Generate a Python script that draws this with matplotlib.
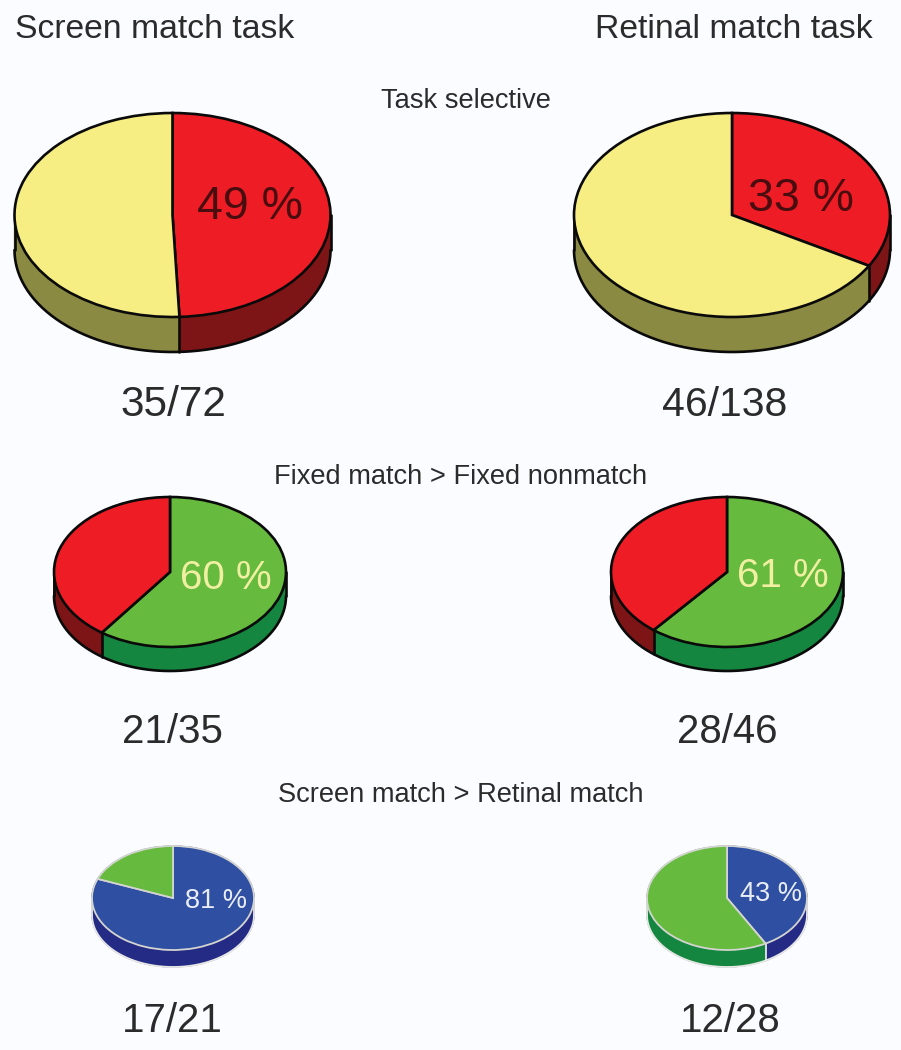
import numpy as np
import matplotlib
matplotlib.use('Agg')
import matplotlib.pyplot as plt

plt.rcParams['font.family'] = ['Liberation Sans', 'DejaVu Sans']

W, H = 901, 1050
BG = '#fbfcff'
TXT = '#2b2b2b'

# datos
slice_pct = [49.3, 33.3, 60.0, 60.9, 81.0, 42.0]
pct_labels = ['49 %', '33 %', '60 %', '61 %', '81 %', '43 %']
count_labels = ['35/72', '46/138', '21/35', '28/46', '17/21', '12/28']
headers = ['Screen match task', 'Retinal match task']
sections = ['Task selective', 'Fixed match > Fixed nonmatch', 'Screen match > Retinal match']

# colores
yellow, olive = '#f6ee82', '#8b8a42'
red, dark_red = '#ee1c25', '#7d1517'
green, dark_green = '#66ba3d', '#15863f'
blue, dark_blue = '#2f4fa3', '#242b85'
top_colors = [(red, yellow), (red, yellow), (green, red), (green, red), (blue, green), (blue, green)]
side_colors = [(dark_red, olive), (dark_red, olive), (dark_green, dark_red),
               (dark_green, dark_red), (dark_blue, dark_green), (dark_blue, dark_green)]
edge_colors = ['#0a0a0a'] * 4 + ['#d4d4d0'] * 2
low_edge_colors = ['#0a0a0a'] * 4 + ['#e8e8e6'] * 2
edge_widths = [1.9, 1.9, 1.9, 1.9, 1.3, 1.3]

# geometria en pixeles: centro x, centro y, radio x, radio y, grosor
cx = [172.5, 732, 170, 727, 173, 727]
cy = [215, 215, 572, 572, 898, 898]
rx = [158, 158, 116, 116, 81, 80]
ry = [102, 102, 75, 75, 52, 52]
depth = [35, 35, 24, 24, 17, 17]

pct_x = [250, 801, 226, 783, 216, 771]
pct_y = [207, 199, 578, 576, 901, 894]
pct_size = [33.5, 33.5, 29, 29, 19.5, 19.5]
pct_colors = ['#4a0d0f', '#4a0d0f', '#f0efa2', '#f0efa2', '#e9edf6', '#e9edf6']

count_x = [173, 725, 172, 727, 172, 730]
count_y = [405, 405, 732, 732, 1021, 1021]
count_size = [30.5, 29.5, 29, 29, 29, 29]


def fig_text(x, y, s, **kw):
    fig.text(x / W, 1 - y / H, s, ha='center', va='center', **kw)


fig = plt.figure(figsize=(W / 100, H / 100), dpi=100, facecolor=BG)

for i in range(6):
    values = [slice_pct[i], 100 - slice_pct[i]]
    d = depth[i] / ry[i]
    pad = 0.06

    # un eje por tarta, estirado para que el circulo salga eliptico
    y0 = cy[i] + ry[i] * (1 + d + pad)
    ax = fig.add_axes([(cx[i] - rx[i] * (1 + pad)) / W, 1 - y0 / H,
                       2 * rx[i] * (1 + pad) / W, ry[i] * (2 + d + 2 * pad) / H])

    # pared lateral: capas de abajo a arriba
    for off in np.linspace(d, 0, depth[i] + 1):
        side, _ = ax.pie(values, colors=side_colors[i], startangle=90, counterclock=False,
                         center=(0, -off), wedgeprops=dict(linewidth=0.8))
        for w in side:
            w.set_edgecolor(w.get_facecolor())

    # contorno inferior y aristas verticales
    t = np.linspace(np.pi, 2 * np.pi, 200)
    line = dict(color=low_edge_colors[i], lw=edge_widths[i], zorder=3, solid_capstyle='round')
    ax.plot(np.cos(t), np.sin(t) - d, **line)
    ax.plot([-1, -1], [0, -d], **line)
    ax.plot([1, 1], [0, -d], **line)
    a = 2 * np.pi * values[0] / 100
    if np.cos(a) < 0:
        ax.plot([np.sin(a)] * 2, [np.cos(a), np.cos(a) - d], **line)

    # cara superior
    wedges, _ = ax.pie(values, colors=top_colors[i], startangle=90, counterclock=False,
                       wedgeprops=dict(linewidth=edge_widths[i], edgecolor=edge_colors[i]))
    for w in wedges:
        w.set_zorder(5)

    ax.set_aspect('auto')
    ax.set_xlim(-1 - pad, 1 + pad)
    ax.set_ylim(-1 - d - pad, 1 + pad)
    ax.axis('off')

    fig_text(pct_x[i], pct_y[i], pct_labels[i], fontsize=pct_size[i], color=pct_colors[i], zorder=10)
    fig_text(count_x[i], count_y[i], count_labels[i], fontsize=count_size[i], color=TXT)

fig_text(154.5, 30, headers[0], fontsize=24.3, color=TXT)
fig_text(733.5, 30, headers[1], fontsize=24.3, color=TXT)
fig_text(466, 101.5, sections[0], fontsize=19.6, color=TXT)
fig_text(461, 476.5, sections[1], fontsize=19.6, color=TXT)
fig_text(461, 794.5, sections[2], fontsize=19.6, color=TXT)

fig.savefig('out.png', dpi=100, facecolor=BG)
